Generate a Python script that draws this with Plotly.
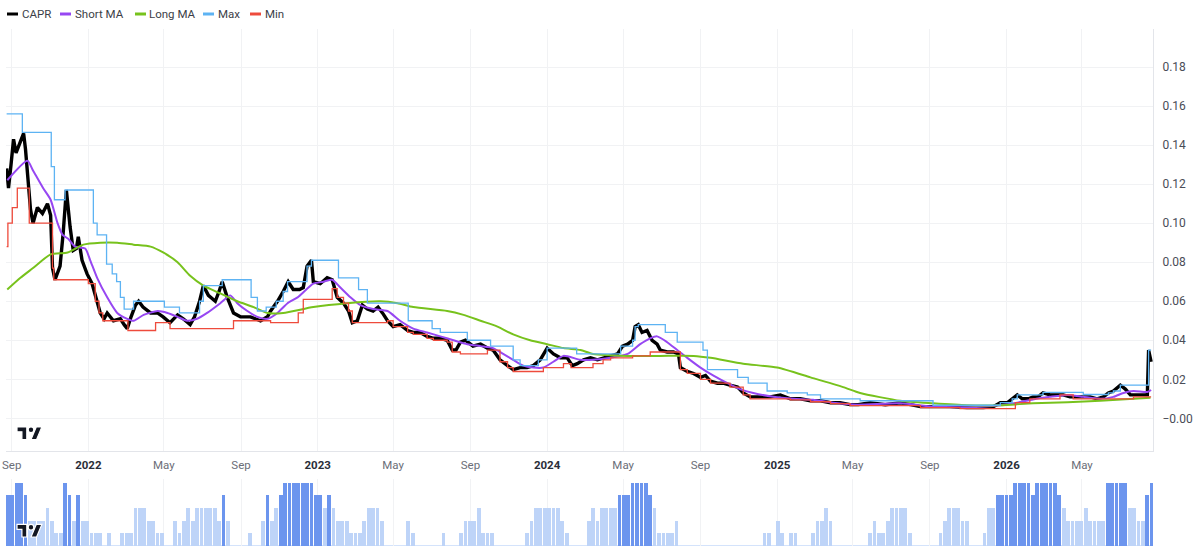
import pandas as pd
import plotly.graph_objects as go

# ---------------- data ----------------
capr_dates = [
    "2021-08-24", "2021-08-27", "2021-08-31", "2021-09-04", "2021-09-08", "2021-09-15", "2021-09-20",
    "2021-09-23", "2021-09-26", "2021-10-01", "2021-10-05", "2021-10-12", "2021-10-20", "2021-10-28",
    "2021-11-02", "2021-11-05", "2021-11-09", "2021-11-17", "2021-11-22", "2021-11-27", "2021-12-03",
    "2021-12-08", "2021-12-13", "2021-12-16", "2021-12-22", "2021-12-30", "2022-01-07", "2022-01-15",
    "2022-01-20", "2022-01-26", "2022-01-31", "2022-02-10", "2022-02-21", "2022-02-27", "2022-03-04",
    "2022-03-10", "2022-03-17", "2022-03-22", "2022-03-29", "2022-04-10", "2022-04-21", "2022-04-30",
    "2022-05-11", "2022-05-23", "2022-06-01", "2022-06-12", "2022-06-19", "2022-06-27", "2022-07-03",
    "2022-07-11", "2022-07-22", "2022-07-28", "2022-08-02", "2022-08-10", "2022-08-20", "2022-08-31",
    "2022-09-16", "2022-10-02", "2022-10-13", "2022-10-18", "2022-10-29", "2022-11-07", "2022-11-15",
    "2022-11-23", "2022-12-03", "2022-12-09", "2022-12-15", "2022-12-22", "2022-12-25", "2023-01-05",
    "2023-01-16", "2023-01-24", "2023-02-01", "2023-02-11", "2023-02-19", "2023-02-25", "2023-03-05",
    "2023-03-13", "2023-03-21", "2023-03-30", "2023-04-07", "2023-04-14", "2023-04-22", "2023-05-01",
    "2023-05-12", "2023-05-24", "2023-06-02", "2023-06-13", "2023-06-24", "2023-07-04", "2023-07-15",
    "2023-07-26", "2023-08-03", "2023-08-09", "2023-08-16", "2023-08-24", "2023-09-05", "2023-09-17",
    "2023-09-28", "2023-10-07", "2023-10-18", "2023-10-30", "2023-11-08", "2023-11-19", "2023-11-30",
    "2023-12-10", "2023-12-21", "2024-01-01", "2024-01-11", "2024-01-22", "2024-02-02", "2024-02-10",
    "2024-02-18", "2024-02-28", "2024-03-10", "2024-03-21", "2024-03-30", "2024-04-11", "2024-04-22",
    "2024-04-30", "2024-05-08", "2024-05-16", "2024-05-20", "2024-05-25", "2024-05-31", "2024-06-08",
    "2024-06-16", "2024-06-24", "2024-06-29", "2024-07-10", "2024-07-20", "2024-07-28", "2024-07-31",
    "2024-08-11", "2024-08-21", "2024-09-01", "2024-09-09", "2024-09-17", "2024-09-28", "2024-10-07",
    "2024-10-18", "2024-10-30", "2024-11-08", "2024-11-19", "2024-12-05", "2024-12-21", "2025-01-06",
    "2025-01-22", "2025-02-07", "2025-02-23", "2025-03-11", "2025-03-27", "2025-04-11", "2025-04-27",
    "2025-05-10", "2025-05-29", "2025-06-22", "2025-07-16", "2025-08-01", "2025-08-17", "2025-09-06",
    "2025-10-03", "2025-10-30", "2025-11-25", "2025-12-11", "2025-12-22", "2026-01-02", "2026-01-10",
    "2026-01-18", "2026-01-26", "2026-02-05", "2026-02-12", "2026-02-20", "2026-02-28", "2026-03-11",
    "2026-03-23", "2026-04-01", "2026-04-12", "2026-04-23", "2026-05-03", "2026-05-14", "2026-05-25",
    "2026-06-04", "2026-06-12", "2026-06-20", "2026-07-01", "2026-07-09", "2026-07-17", "2026-07-28",
    "2026-08-06", "2026-08-13", "2026-08-15", "2026-08-17", "2026-08-19",
]
capr_values = [
    0.128, 0.118, 0.130, 0.143, 0.136, 0.142, 0.146,
    0.138, 0.128, 0.107, 0.100, 0.108, 0.105, 0.110,
    0.104, 0.077, 0.071, 0.078, 0.095, 0.117, 0.098,
    0.086, 0.087, 0.093, 0.081, 0.074, 0.069, 0.060,
    0.054, 0.051, 0.054, 0.050, 0.051, 0.048, 0.046,
    0.052, 0.058, 0.060, 0.057, 0.054, 0.054, 0.052,
    0.049, 0.053, 0.051, 0.048, 0.052, 0.060, 0.068,
    0.063, 0.060, 0.065, 0.070, 0.062, 0.054, 0.052,
    0.052, 0.050, 0.052, 0.055, 0.060, 0.065, 0.070,
    0.066, 0.066, 0.067, 0.078, 0.081, 0.070, 0.069,
    0.072, 0.071, 0.062, 0.059, 0.055, 0.049, 0.050,
    0.058, 0.056, 0.055, 0.057, 0.054, 0.050, 0.047,
    0.048, 0.045, 0.044, 0.044, 0.042, 0.041, 0.041,
    0.040, 0.035, 0.035, 0.039, 0.040, 0.037, 0.038,
    0.036, 0.035, 0.030, 0.027, 0.025, 0.026, 0.026,
    0.027, 0.030, 0.036, 0.033, 0.031, 0.031, 0.027,
    0.028, 0.030, 0.031, 0.030, 0.031, 0.032, 0.033,
    0.037, 0.038, 0.040, 0.047, 0.048, 0.044, 0.045,
    0.040, 0.038, 0.035, 0.034, 0.034, 0.033, 0.026,
    0.024, 0.023, 0.021, 0.022, 0.019, 0.018, 0.018,
    0.017, 0.016, 0.013, 0.011, 0.011, 0.011, 0.012,
    0.010, 0.010, 0.009, 0.009, 0.008, 0.008, 0.007,
    0.007, 0.008, 0.007, 0.008, 0.007, 0.006, 0.006,
    0.006, 0.0055, 0.0055, 0.006, 0.008, 0.008, 0.010,
    0.012, 0.010, 0.010, 0.011, 0.011, 0.013, 0.012,
    0.012, 0.012, 0.011, 0.011, 0.011, 0.011, 0.010,
    0.011, 0.013, 0.014, 0.017, 0.015, 0.012, 0.012,
    0.012, 0.012, 0.035, 0.031, 0.029,
]

short_ma_dates = [
    "2021-08-25", "2021-09-26", "2021-10-05", "2021-10-21", "2021-11-02", "2021-11-13", "2021-11-21",
    "2021-11-30", "2021-12-11", "2021-12-27", "2022-01-04", "2022-01-15", "2022-01-31", "2022-02-16",
    "2022-03-04", "2022-03-14", "2022-03-30", "2022-04-21", "2022-05-07", "2022-05-23", "2022-06-07",
    "2022-06-23", "2022-07-09", "2022-07-30", "2022-08-15", "2022-08-26", "2022-09-11", "2022-09-27",
    "2022-10-13", "2022-10-29", "2022-11-14", "2022-11-30", "2022-12-25", "2023-01-10", "2023-01-24",
    "2023-02-06", "2023-02-22", "2023-03-10", "2023-03-30", "2023-04-22", "2023-05-12", "2023-06-02",
    "2023-06-24", "2023-07-15", "2023-08-05", "2023-08-27", "2023-09-17", "2023-10-07", "2023-10-23",
    "2023-11-08", "2023-11-24", "2023-12-10", "2023-12-26", "2024-01-11", "2024-01-27", "2024-02-23",
    "2024-03-14", "2024-04-11", "2024-05-08", "2024-05-28", "2024-06-13", "2024-06-24", "2024-07-10",
    "2024-07-26", "2024-08-11", "2024-09-01", "2024-09-21", "2024-10-14", "2024-11-03", "2024-11-24",
    "2024-12-26", "2025-01-27", "2025-02-27", "2025-03-31", "2025-05-09", "2025-07-16", "2025-09-06",
    "2025-10-30", "2025-12-22", "2026-01-18", "2026-02-12", "2026-03-11", "2026-04-08", "2026-05-03",
    "2026-05-30", "2026-06-20", "2026-07-06", "2026-07-22", "2026-08-13", "2026-08-19",
]
short_ma_values = [
    0.122, 0.132, 0.127, 0.118, 0.112, 0.100, 0.094,
    0.092, 0.088, 0.087, 0.081, 0.072, 0.062, 0.054,
    0.051, 0.050, 0.053, 0.055, 0.054, 0.052, 0.050,
    0.051, 0.054, 0.059, 0.063, 0.059, 0.055, 0.052,
    0.051, 0.054, 0.059, 0.062, 0.069, 0.070, 0.071,
    0.067, 0.062, 0.058, 0.056, 0.055, 0.050, 0.046,
    0.044, 0.042, 0.040, 0.038, 0.037, 0.036, 0.033,
    0.030, 0.027, 0.026, 0.026, 0.029, 0.032, 0.030,
    0.030, 0.031, 0.033, 0.038, 0.041, 0.042, 0.039,
    0.035, 0.031, 0.026, 0.022, 0.018, 0.015, 0.013,
    0.011, 0.010, 0.0095, 0.008, 0.007, 0.0077, 0.006,
    0.0057, 0.0067, 0.008, 0.0097, 0.011, 0.012, 0.011,
    0.010, 0.011, 0.013, 0.014, 0.0135, 0.0145,
]

long_ma_dates = [
    "2021-08-25", "2021-09-15", "2021-10-05", "2021-11-02", "2021-11-29", "2021-12-24", "2022-01-20",
    "2022-02-16", "2022-03-14", "2022-04-10", "2022-04-30", "2022-05-23", "2022-06-12", "2022-07-03",
    "2022-07-30", "2022-08-26", "2022-09-21", "2022-10-13", "2022-11-07", "2022-12-25", "2023-02-17",
    "2023-04-11", "2023-05-08", "2023-06-02", "2023-07-26", "2023-08-21", "2023-09-17", "2023-10-14",
    "2023-11-08", "2023-12-05", "2024-01-01", "2024-01-27", "2024-02-23", "2024-03-14", "2024-05-08",
    "2024-06-29", "2024-08-21", "2024-09-17", "2024-11-08", "2025-01-01", "2025-02-23", "2025-04-16",
    "2025-05-13", "2025-07-16", "2025-09-06", "2025-10-30", "2025-12-22", "2026-02-12", "2026-04-08",
    "2026-05-30", "2026-08-18",
]
long_ma_values = [
    0.066, 0.072, 0.077, 0.084, 0.085, 0.089, 0.090,
    0.090, 0.089, 0.088, 0.085, 0.080, 0.073, 0.068,
    0.064, 0.060, 0.057, 0.054, 0.054, 0.057, 0.059,
    0.060, 0.059, 0.057, 0.055, 0.053, 0.050, 0.047,
    0.043, 0.040, 0.038, 0.036, 0.035, 0.033, 0.032,
    0.032, 0.032, 0.031, 0.028, 0.026, 0.021, 0.016,
    0.013, 0.009, 0.0077, 0.0067, 0.0067, 0.0077, 0.0083,
    0.009, 0.0105,
]

max_dates = [
    "2021-08-24", "2021-09-18", "2021-11-03", "2021-11-08", "2021-11-25", "2022-01-09", "2022-01-15",
    "2022-01-30", "2022-02-08", "2022-02-15", "2022-02-21", "2022-02-27", "2022-03-14", "2022-05-02",
    "2022-05-26", "2022-06-27", "2022-07-03", "2022-08-02", "2022-09-17", "2022-09-27", "2022-10-11",
    "2022-10-27", "2022-11-07", "2022-11-14", "2022-12-15", "2022-12-22", "2023-02-03", "2023-03-07",
    "2023-03-21", "2023-05-25", "2023-07-02", "2023-07-15", "2023-08-27", "2023-10-03", "2023-11-08",
    "2023-11-19", "2023-12-18", "2024-01-01", "2024-02-17", "2024-04-27", "2024-05-16", "2024-05-20",
    "2024-05-25", "2024-07-07", "2024-07-26", "2024-09-05", "2024-09-12", "2024-10-30", "2024-11-16",
    "2024-12-16", "2025-01-17", "2025-02-18", "2025-03-11", "2025-05-13", "2025-09-06", "2025-12-22",
    "2026-01-10", "2026-01-18", "2026-02-28", "2026-05-03", "2026-06-12", "2026-06-20", "2026-07-01",
    "2026-08-15", "2026-08-19",
]
max_values = [
    0.156, 0.1465, 0.129, 0.112, 0.117, 0.100, 0.094,
    0.079, 0.074, 0.070, 0.062, 0.056, 0.060, 0.057,
    0.054, 0.060, 0.068, 0.071, 0.062, 0.055, 0.057,
    0.060, 0.065, 0.070, 0.078, 0.081, 0.072, 0.066,
    0.059, 0.050, 0.046, 0.044, 0.040, 0.037, 0.030,
    0.027, 0.030, 0.036, 0.033, 0.037, 0.040, 0.047,
    0.048, 0.044, 0.039, 0.035, 0.025, 0.021, 0.018,
    0.014, 0.013, 0.012, 0.010, 0.009, 0.0067, 0.008,
    0.010, 0.012, 0.0133, 0.0122, 0.013, 0.014, 0.017,
    0.035, 0.035,
]

min_dates = [
    "2021-08-24", "2021-08-26", "2021-09-02", "2021-09-10", "2021-09-29", "2021-11-05", "2021-11-07",
    "2022-01-01", "2022-01-12", "2022-01-18", "2022-01-24", "2022-03-05", "2022-04-18", "2022-05-11",
    "2022-08-20", "2022-10-18", "2022-12-01", "2022-12-09", "2023-01-24", "2023-02-01", "2023-02-11",
    "2023-02-19", "2023-02-25", "2023-04-22", "2023-05-01", "2023-05-24", "2023-06-02", "2023-06-24",
    "2023-07-04", "2023-07-26", "2023-08-03", "2023-08-16", "2023-09-28", "2023-10-18", "2023-10-30",
    "2023-11-08", "2023-12-26", "2024-01-27", "2024-02-08", "2024-03-14", "2024-03-30", "2024-04-11",
    "2024-05-16", "2024-06-13", "2024-07-31", "2024-08-11", "2024-09-01", "2024-09-17", "2024-10-18",
    "2024-11-08", "2024-11-19", "2025-01-22", "2025-02-23", "2025-03-27", "2025-04-27", "2025-08-17",
    "2025-10-19", "2026-01-15", "2026-02-07", "2026-03-27", "2026-04-17", "2026-07-22", "2026-08-19",
]
min_values = [
    0.088, 0.100, 0.108, 0.118, 0.100, 0.077, 0.071,
    0.069, 0.060, 0.054, 0.050, 0.045, 0.049, 0.046,
    0.050, 0.049, 0.054, 0.061, 0.0665, 0.062, 0.059,
    0.055, 0.049, 0.050, 0.047, 0.044, 0.043, 0.041,
    0.040, 0.039, 0.034, 0.033, 0.035, 0.029, 0.026,
    0.024, 0.026, 0.028, 0.026, 0.028, 0.030, 0.031,
    0.032, 0.034, 0.025, 0.023, 0.020, 0.018, 0.016,
    0.012, 0.010, 0.0095, 0.0085, 0.0075, 0.0065, 0.0055,
    0.005, 0.008, 0.010, 0.012, 0.010, 0.011, 0.011,
]

# weekly volume (relative level), weeks starting 2021-08-23
volume_week_start = "2021-08-23"
volume_levels = [
    4, 4, 5, 5, 4, 2, 2, 2, 2, 3,
    2, 1, 1, 5, 4, 2, 4, 2, 2, 1,
    1, 1, 0, 1, 0, 0, 1, 1, 1, 3,
    3, 3, 2, 2, 1, 1, 0, 0, 2, 1,
    2, 3, 2, 3, 3, 3, 3, 3, 2, 4,
    2, 0, 0, 0, 0, 1, 0, 0, 2, 4,
    2, 3, 4, 5, 5, 5, 5,
    5, 5, 5,
    4, 4, 3, 4, 3, 2, 2, 2, 1, 1,
    1, 2, 3, 3, 3, 2, 0, 0, 0, 0,
    0, 2, 1, 0, 0, 0, 0, 0, 0, 1,
    0, 0, 0, 1, 2, 2, 2, 3, 1, 1,
    1, 0, 0, 0, 0, 0, 0, 0, 1, 2,
    3, 3, 3, 3, 3, 3, 2, 1, 0, 0,
    0, 0, 2, 3, 2,
    3, 3, 3, 3, 4, 4, 4, 5, 5, 5,
    5, 4, 3, 1, 1, 1, 1, 2, 0, 0,
    0, 0, 0, 0, 0, 0, 0, 0, 0, 0,
    0, 0, 0, 0, 0, 0, 0, 1, 1, 0,
    2, 1, 0, 1, 1, 0, 0, 0, 1, 2,
    2, 3, 2, 0, 0, 0, 0, 0, 0, 0,
    0, 1, 2, 1, 1, 2, 3, 3, 3, 3,
    1, 0, 0, 0, 0, 0, 0, 1, 2, 3,
    3, 3, 2, 2, 0, 0, 0, 1, 3, 3,
    4, 4, 4, 4, 5, 5, 5, 5, 4, 5,
    5, 5, 5, 5, 4, 3, 2, 2, 2, 2,
    3, 2, 2, 2, 2, 5, 5, 5, 5, 5,
    3, 3, 2, 2, 4, 5,
]

x_tick_dates = ["2021-09-01", "2022-01-01", "2022-05-01", "2022-09-01", "2023-01-01", "2023-05-01",
                "2023-09-01", "2024-01-01", "2024-05-01", "2024-09-01", "2025-01-01", "2025-05-01",
                "2025-09-01", "2026-01-01", "2026-05-01"]
x_tick_labels = ["Sep", "2022", "May", "Sep", "2023", "May", "Sep", "2024", "May", "Sep", "2025",
                 "May", "Sep", "2026", "May"]
y_tick_values = [0.00, 0.02, 0.04, 0.06, 0.08, 0.10, 0.12, 0.14, 0.16, 0.18]
y_tick_labels = ["\u22120.00", "0.02", "0.04", "0.06", "0.08", "0.10", "0.12", "0.14", "0.16", "0.18"]

series_names = ["CAPR", "Short MA", "Long MA", "Max", "Min"]
series_colors = ["#000000", "#9747f2", "#77c21c", "#5db3f3", "#ee4b3c"]

# ---------------- figure ----------------
W, H = 1200, 558
ML, MR, MT, MB = 6, 47, 29, 12
PW, PH = W - ML - MR, H - MT - MB


def pxx(px):
    return (px - ML) / PW


def pxy(py):
    return (H - MB - py) / PH


FONT = "Roboto"
GRID = "#f1f2f4"
BORDER = "#e3e5ea"

fig = go.Figure()

fig.add_trace(go.Scatter(x=capr_dates, y=capr_values, mode="lines", name=series_names[0],
                         line=dict(color=series_colors[0], width=3.4)))
fig.add_trace(go.Scatter(x=short_ma_dates, y=short_ma_values, mode="lines", name=series_names[1],
                         line=dict(color=series_colors[1], width=2, shape="spline", smoothing=0.6)))
fig.add_trace(go.Scatter(x=long_ma_dates, y=long_ma_values, mode="lines", name=series_names[2],
                         line=dict(color=series_colors[2], width=2, shape="spline", smoothing=0.6)))
fig.add_trace(go.Scatter(x=max_dates, y=max_values, mode="lines", name=series_names[3],
                         line=dict(color=series_colors[3], width=1.3, shape="hv")))
fig.add_trace(go.Scatter(x=min_dates, y=min_values, mode="lines", name=series_names[4],
                         line=dict(color=series_colors[4], width=1.3, shape="hv")))

vol_dates = pd.date_range(volume_week_start, periods=len(volume_levels), freq="7D")
vol_colors = ["#6c95ee" if v >= 4 else "#bed4f8" for v in volume_levels]
fig.add_trace(go.Bar(x=vol_dates, y=volume_levels, xaxis="x2", yaxis="y2", name="Volume",
                     marker=dict(color=vol_colors, line=dict(width=0)),
                     width=6 * 86400000, offset=0))

x_tick_text = [("<b>%s</b>" % t) if t.isdigit() else ("<span style='color:#6b6e78'>%s</span>" % t)
               for t in x_tick_labels]

x_range = ["2021-08-23", "2026-08-22"]
main_bottom = pxy(451)
vol_top = pxy(479)

fig.update_layout(
    width=W, height=H,
    margin=dict(l=ML, r=MR, t=MT, b=MB, autoexpand=False),
    paper_bgcolor="white", plot_bgcolor="white",
    showlegend=False,
    bargap=0,
    font=dict(family=FONT, size=11, color="#131722"),
    xaxis=dict(domain=[0, 1], anchor="y", range=x_range, type="date", automargin=False,
               tickvals=x_tick_dates, ticktext=x_tick_text, ticks="",
               tickfont=dict(size=11.5, color="#2a2e39"),
               showgrid=True, gridcolor=GRID, gridwidth=1,
               showline=True, linecolor=BORDER, linewidth=1, zeroline=False,
               ticklabelstandoff=3),
    xaxis2=dict(domain=[0, 1], anchor="y2", matches="x", range=x_range, type="date", automargin=False,
                tickvals=x_tick_dates, showticklabels=False, ticks="",
                showgrid=True, gridcolor=GRID, gridwidth=1, showline=False, zeroline=False),
    yaxis=dict(domain=[main_bottom, 1], anchor="x", side="right", range=[-0.01674, 0.1995],
               tickvals=y_tick_values, ticktext=y_tick_labels, ticks="", automargin=False,
               tickfont=dict(size=12, color="#4a4d57"),
               showgrid=True, gridcolor=GRID, gridwidth=1,
               showline=True, linecolor=BORDER, linewidth=1, zeroline=False,
               ticklabelstandoff=6),
    yaxis2=dict(domain=[0, vol_top], anchor="x2", range=[0, 5.29], showgrid=False, automargin=False,
                showticklabels=False, ticks="", zeroline=False, showline=False),
)

shapes = []
annotations = []

# volume baseline
shapes.append(dict(type="line", xref="x2", yref="y2", x0=vol_dates[0], x1=x_range[1], y0=0.03, y1=0.03,
                   line=dict(color="#cfe0fb", width=1), layer="below"))

# custom legend
legend_items = [(7, 18, 22), (60, 71, 75), (135, 146, 149), (203, 214, 218), (250, 261, 265)]
for (s0, s1, tx), name, col in zip(legend_items, series_names, series_colors):
    shapes.append(dict(type="line", xref="paper", yref="paper", x0=pxx(s0), x1=pxx(s1),
                       y0=pxy(14), y1=pxy(14), line=dict(color=col, width=3)))
    annotations.append(dict(xref="paper", yref="paper", x=pxx(tx), y=pxy(14), text=name,
                            showarrow=False, xanchor="left", yanchor="middle", xshift=-2,
                            font=dict(family=FONT, size=11.5, color="#3b3e47")))


# TradingView-style logos
def tv_logo(ax, ay):
    base = dict(xref="paper", yref="paper", xsizemode="pixel", ysizemode="pixel",
                xanchor=ax, yanchor=ay, fillcolor="#131722",
                line=dict(color="white", width=1.2), layer="above")
    return [
        dict(type="path", path="M0,12.6 L9.8,12.6 L9.8,0 L4.9,0 L4.9,7.7 L0,7.7 Z", **base),
        dict(type="circle", x0=11.2, x1=16.8, y0=7.0, y1=12.6, **base),
        dict(type="path", path="M14,0 L19.6,0 L24.85,12.6 L19.25,12.6 Z", **base),
    ]


shapes += tv_logo(pxx(17), pxy(439.5))
shapes += tv_logo(pxx(17), pxy(537))

fig.update_layout(shapes=shapes, annotations=annotations)

fig.write_html("out.html", config={"displayModeBar": False},
               post_script="document.body.style.margin='0';document.body.style.overflow='hidden';")
